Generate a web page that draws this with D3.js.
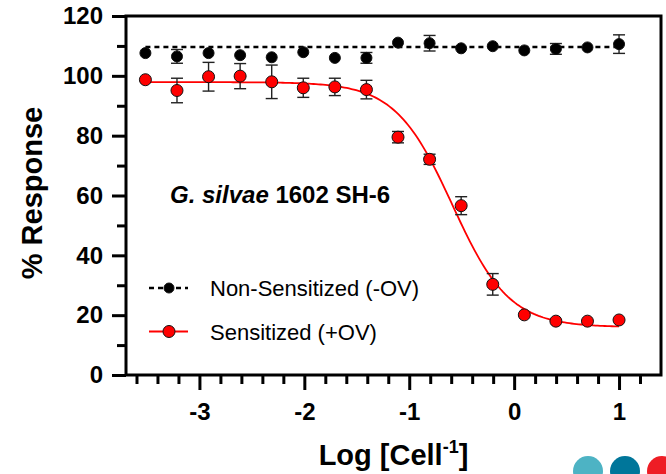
<!DOCTYPE html>
<html>
<head>
<meta charset="utf-8">
<script src="https://cdn.jsdelivr.net/npm/d3@7"></script>
<style>
  body { margin: 0; background: #fff; }
  text { font-family: Arial, "Liberation Sans", sans-serif; }
</style>
</head>
<body>
<div id="chart-area"></div>
<script>

// log10 of the dilution (two-fold steps)
var logConc = [-3.515, -3.214, -2.913, -2.612, -2.311, -2.010, -1.709, -1.408,
               -1.107, -0.806, -0.505, -0.204, 0.097, 0.398, 0.699, 1.000];

// Non-Sensitized (-OV)
var nonSensMean = [107.6, 106.5, 107.6, 106.9, 106.2, 107.9, 106.0, 106.0,
                   111.1, 110.9, 109.2, 109.9, 108.5, 109.0, 109.5, 110.6];
var nonSensErr  = [0.8, 2.3, 0.8, 0.8, 0.8, 0.8, 0.8, 1.8,
                   0.8, 2.6, 0.8, 0.8, 0.8, 1.8, 0.8, 3.1];
var nonSensFit  = 109.6;

// Sensitized (+OV)
var sensMean = [98.7, 95.1, 99.7, 99.9, 98.0, 96.0, 96.3, 95.4,
                79.5, 72.1, 56.6, 30.3, 20.1, 18.0, 18.0, 18.4];
var sensErr  = [0.8, 4.1, 4.8, 4.2, 5.6, 3.2, 2.9, 3.1,
                1.9, 1.7, 3.0, 3.6, 0.8, 0.8, 0.8, 0.8];
// four-parameter fit of the sensitized curve
var sensFit = { top: 97.9, bottom: 16.0, logIC50: -0.59, hill: 1.6 };

var xMajorTicks = [-3, -2, -1, 0, 1];
var xMinorTicks = [-3.6, -3.4, -3.2, -2.8, -2.6, -2.4, -2.2, -1.8, -1.6, -1.4, -1.2,
                   -0.8, -0.6, -0.4, -0.2, 0.2, 0.4, 0.6, 0.8, 1.2];
var yMajorTicks = [0, 20, 40, 60, 80, 100, 120];
var yMinorTicks = [10, 30, 50, 70, 90, 110];

var legendLabels = ["Non-Sensitized (-OV)", "Sensitized (+OV)"];
var logoColors = ["#4db3c4", "#00769a", "#ee1d25"];

var margin = { left: 126, right: 5, top: 16, bottom: 99 };
var width = 666 - margin.left - margin.right,
    height = 474 - margin.top - margin.bottom;

var svg = d3.select("#chart-area")
  .append("svg")
    .attr("width", 666)
    .attr("height", 474);

var g = svg.append("g")
    .attr("transform", "translate(" + margin.left + "," + margin.top + ")");

var x = d3.scaleLinear().domain([-3.7, 1.4]).range([0, width]);
var y = d3.scaleLinear().domain([0, 120]).range([height, 0]);

// minor ticks first, then major axes on top
g.append("g")
  .attr("transform", "translate(0," + height + ")")
  .call(d3.axisBottom(x).tickValues(xMinorTicks).tickSize(9).tickFormat(""))
  .call(function(s) { s.select(".domain").remove(); });

g.append("g")
  .call(d3.axisLeft(y).tickValues(yMinorTicks).tickSize(9).tickFormat(""))
  .call(function(s) { s.select(".domain").remove(); });

var xAxis = g.append("g")
  .attr("class", "x axis")
  .attr("transform", "translate(0," + height + ")")
  .call(d3.axisBottom(x).tickValues(xMajorTicks).tickSize(15).tickSizeOuter(0).tickPadding(13)
        .tickFormat(function(d) { return String(d); }));

var yAxis = g.append("g")
  .attr("class", "y axis")
  .call(d3.axisLeft(y).tickValues(yMajorTicks).tickSize(14).tickSizeOuter(0).tickPadding(9));

g.selectAll(".tick line").attr("stroke", "#000").attr("stroke-width", 3);
g.selectAll(".domain").remove();
g.selectAll(".axis text")
  .attr("font-size", "24px")
  .attr("font-weight", "bold")
  .attr("fill", "#000")
  .style("font-family", "Arial, 'Liberation Sans', sans-serif");

// frame
g.append("rect")
  .attr("x", 0).attr("y", 0)
  .attr("width", width).attr("height", height)
  .attr("fill", "none")
  .attr("stroke", "#000")
  .attr("stroke-width", 3);

// fitted lines
g.append("line")
  .attr("x1", x(d3.min(logConc))).attr("x2", x(d3.max(logConc)))
  .attr("y1", y(nonSensFit)).attr("y2", y(nonSensFit))
  .attr("stroke", "#000")
  .attr("stroke-width", 2.5)
  .attr("stroke-dasharray", "5,4");

var curveX = d3.range(0, 201).map(function(i) {
  return d3.min(logConc) + (d3.max(logConc) - d3.min(logConc)) * i / 200;
});
var line = d3.line()
  .x(function(d) { return x(d); })
  .y(function(d) {
    return y(sensFit.bottom + (sensFit.top - sensFit.bottom) /
      (1 + Math.pow(10, (d - sensFit.logIC50) * sensFit.hill)));
  });

g.append("path")
  .datum(curveX)
  .attr("d", line)
  .attr("fill", "none")
  .attr("stroke", "#ff0000")
  .attr("stroke-width", 1.8);

function drawSeries(means, errs, r, fill) {
  var pts = logConc.map(function(c, i) { return { x: c, m: means[i], e: errs[i] }; });
  // bars hidden inside the symbol are not drawn
  var bars = pts.filter(function(d) { return y(d.m) - y(d.m + d.e) > r * 0.8; });

  var eb = g.append("g").attr("stroke", "#222").attr("stroke-width", 1.4);
  eb.selectAll(".v").data(bars).enter().append("line")
    .attr("x1", function(d) { return x(d.x); })
    .attr("x2", function(d) { return x(d.x); })
    .attr("y1", function(d) { return y(d.m - d.e); })
    .attr("y2", function(d) { return y(d.m + d.e); });
  [1, -1].forEach(function(sg) {
    eb.selectAll(".c" + sg).data(bars).enter().append("line")
      .attr("x1", function(d) { return x(d.x) - 6; })
      .attr("x2", function(d) { return x(d.x) + 6; })
      .attr("y1", function(d) { return y(d.m + sg * d.e); })
      .attr("y2", function(d) { return y(d.m + sg * d.e); });
  });

  g.append("g").selectAll("circle")
    .data(pts).enter()
    .append("circle")
      .attr("cx", function(d) { return x(d.x); })
      .attr("cy", function(d) { return y(d.m); })
      .attr("r", r)
      .attr("fill", fill)
      .attr("stroke", "#111")
      .attr("stroke-width", 1);
}

drawSeries(sensMean, sensErr, 6, "#ff0000");
drawSeries(nonSensMean, nonSensErr, 5.5, "#000");

// annotation
var title = g.append("text")
  .attr("x", 170 - margin.left)
  .attr("y", 203 - margin.top)
  .attr("font-size", "24px")
  .attr("font-weight", "bold");
title.append("tspan").attr("font-style", "italic").text("G. silvae");
title.append("tspan").text(" 1602 SH-6");

// legend
var legend = g.append("g").attr("transform", "translate(" + (149 - margin.left) + "," + (288 - margin.top) + ")");
legendLabels.forEach(function(label, i) {
  var row = legend.append("g").attr("transform", "translate(0," + (i * 43.5) + ")");
  row.append("line")
    .attr("x1", 0).attr("x2", 39)
    .attr("stroke", i === 0 ? "#000" : "#ff0000")
    .attr("stroke-width", i === 0 ? 2.5 : 1.8)
    .attr("stroke-dasharray", i === 0 ? "5,4" : null);
  row.append("circle")
    .attr("cx", 20).attr("r", i === 0 ? 5 : 6)
    .attr("fill", i === 0 ? "#000" : "#ff0000")
    .attr("stroke", "#111").attr("stroke-width", 1);
  row.append("text")
    .attr("x", 61).attr("y", 8)
    .attr("font-size", "22px")
    .text(label);
});

// X Label
var xl = svg.append("text")
  .attr("x", margin.left + width / 2)
  .attr("y", 465)
  .attr("font-size", "29px")
  .attr("font-weight", "bold")
  .attr("text-anchor", "middle");
xl.append("tspan").text("Log [Cell");
xl.append("tspan").attr("font-size", "18px").attr("dy", "-12").text("-1");
xl.append("tspan").attr("dy", "12").text("]");

// Y Label
svg.append("text")
  .attr("transform", "translate(42," + 193 + ") rotate(-90)")
  .attr("font-size", "29px")
  .attr("font-weight", "bold")
  .attr("text-anchor", "middle")
  .text("% Response");

// corner logo dots
svg.append("g").selectAll("circle")
  .data(logoColors).enter()
  .append("circle")
    .attr("cx", function(d, i) { return 588 + i * 37; })
    .attr("cy", 471)
    .attr("r", 15)
    .attr("fill", function(d) { return d; });

</script>
</body>
</html>
